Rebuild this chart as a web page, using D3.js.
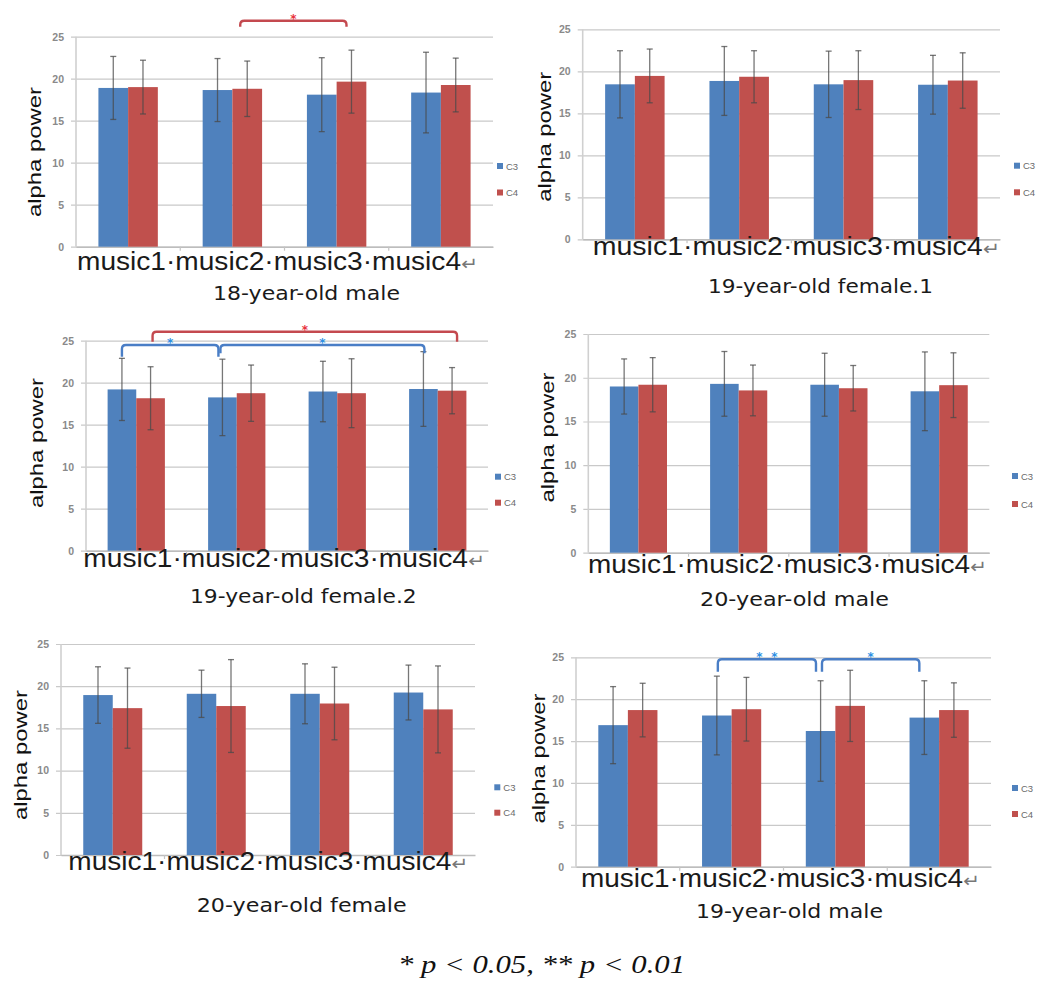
<!DOCTYPE html>
<html>
<head>
<meta charset="utf-8">
<script src="https://cdn.jsdelivr.net/npm/d3@7"></script>
<style>
  html, body { margin: 0; padding: 0; background: #fff; }
  svg { display: block; }
</style>
</head>
<body>
<svg id="chart" width="1043" height="983"></svg>
<script>
// ---------------- DATA ----------------
const categories = ["music1", "music2", "music3", "music4"];
const seriesNames = ["C3", "C4"];
const yTicks = [0, 5, 10, 15, 20, 25];
const panelTitles = [
  "18-year-old male",
  "19-year-old female.1",
  "19-year-old female.2",
  "20-year-old male",
  "20-year-old female",
  "19-year-old male"
];
const xAxisText = "music1\u00B7music2\u00B7music3\u00B7music4";
const yAxisText = "alpha power";
const footnote = "* p < 0.05, ** p < 0.01";

// mean values per panel (C3 / C4)
const c3Mean = [
  [18.9, 18.65, 18.1, 18.35],
  [18.45, 18.85, 18.45, 18.4],
  [19.2, 18.25, 18.95, 19.25],
  [19.0, 19.3, 19.2, 18.45],
  [18.95, 19.1, 19.1, 19.25],
  [16.9, 18.05, 16.2, 17.8]
];
const c4Mean = [
  [19.0, 18.8, 19.65, 19.25],
  [19.45, 19.35, 18.95, 18.9],
  [18.15, 18.75, 18.75, 19.05],
  [19.2, 18.55, 18.8, 19.15],
  [17.4, 17.65, 17.95, 17.25],
  [18.7, 18.8, 19.2, 18.7]
];
// standard deviation (error bar half-length)
const c3Err = [
  [3.75, 3.75, 4.4, 4.8],
  [4.0, 4.1, 3.95, 3.5],
  [3.7, 4.55, 3.6, 4.45],
  [3.15, 3.7, 3.6, 4.5],
  [3.35, 2.8, 3.55, 3.25],
  [4.6, 4.7, 6.0, 4.4]
];
const c4Err = [
  [3.2, 3.3, 3.75, 3.2],
  [3.2, 3.1, 3.5, 3.3],
  [3.75, 3.35, 4.1, 2.75],
  [3.1, 2.9, 2.6, 3.7],
  [4.75, 5.5, 4.3, 5.15],
  [3.2, 3.8, 4.25, 3.25]
];
// significant comparisons
const comparisons = [
  { panel: 0, series: "C4", from: "music2", to: "music3", label: "*" },
  { panel: 2, series: "C4", from: "music1", to: "music4", label: "*" },
  { panel: 2, series: "C3", from: "music1", to: "music2", label: "*" },
  { panel: 2, series: "C3", from: "music2", to: "music4", label: "*" },
  { panel: 5, series: "C3", from: "music2", to: "music3", label: "**" },
  { panel: 5, series: "C3", from: "music3", to: "music4", label: "*" }
];

// ---------------- LAYOUT / STYLE ----------------
const colors = { C3: "#4f81bd", C4: "#c0504d" };
const bracketColors = { C3: "#4a7ec6", C4: "#c4494f" };
const starColors = { C3: "#2d8fe3", C4: "#e8323c" };

const layout = [
  { l: 76,  r: 493,  top: 36.7,  bot: 246.7, ylx: 41,  yly: 152,   xl: [77, 478, 270],    st: [213, 400, 300],   lg: [497, 166, 192.5] },
  { l: 582.7, r: 1000, top: 29.3, bot: 239.3, ylx: 551, yly: 136.7, xl: [592.7, 1000, 255], st: [708, 933, 292.7], lg: [1014, 165.7, 192.3] },
  { l: 86,  r: 488,  top: 340.7, bot: 550.7, ylx: 43,  yly: 443,   xl: [83.3, 485, 566.7], st: [190, 416.7, 603.3], lg: [495, 476.7, 502.7] },
  { l: 588.3, r: 989.3, top: 334, bot: 552.7, ylx: 554, yly: 437.5, xl: [588, 987, 573],   st: [700, 889, 605.7], lg: [1012, 476, 504] },
  { l: 61,  r: 475,  top: 644,   bot: 855,   ylx: 27,  yly: 755,   xl: [68.3, 468.3, 870], st: [196.7, 406.7, 911.7], lg: [494.3, 787.3, 812.7] },
  { l: 576, r: 991,  top: 657.3, bot: 866.7, ylx: 545, yly: 758.5, xl: [581, 980, 886.7],  st: [696, 883, 918],   lg: [1012, 788, 814] }
];
// bracket placement, aligned with comparisons
const bracketLayout = [
  { dy: -16, drop: 6,    dx1: -7,  dx2: -5 },
  { dy: -9,  drop: 10,   dx1: 2,   dx2: 5 },
  { dy: 4.3, drop: 11.7, dx1: 0,   dx2: -4 },
  { dy: 4.3, drop: 8.3,  dx1: -2,  dx2: 1 },
  { dy: 2,   drop: 12.4, dx1: 1,   dx2: -4.6 },
  { dy: 2,   drop: 12.4, dx1: 1.4, dx2: -5 }
];

const svg = d3.select("#chart");

const scales = layout.map((L, p) => {
  const x = d3.scaleBand().domain(categories).range([L.l, L.r]).paddingInner(0.43).paddingOuter(0.215);
  const xs = d3.scaleBand().domain(seriesNames).range([0, x.bandwidth()]);
  const y = d3.scaleLinear().domain([0, 25]).range([L.bot, L.top]);
  return { x, xs, y };
});

layout.forEach((L, p) => {
  const { x, xs, y } = scales[p];
  const g = svg.append("g");

  // gridlines + y axis
  const yAxis = d3.axisLeft(y).tickValues(yTicks).tickSize(-(L.r - L.l)).tickPadding(7).tickSizeOuter(0);
  const ga = g.append("g").attr("transform", `translate(${L.l},0)`).call(yAxis);
  ga.select(".domain").remove();
  ga.selectAll(".tick line").attr("stroke", "#c9c9c9").attr("stroke-width", 1.2).attr("x1", -5);
  ga.selectAll(".tick text").attr("fill", "#8a8a8a").attr("font-size", 10.5).attr("font-weight", "bold")
    .attr("font-family", "Liberation Sans, Arial, sans-serif").attr("dx", -5);

  // left axis line
  g.append("line").attr("x1", L.l).attr("x2", L.l).attr("y1", L.top).attr("y2", L.bot)
    .attr("stroke", "#d0d0d0").attr("stroke-width", 1.6);

  // bottom axis with category ticks
  const xAxis = d3.axisBottom(x).tickValues([]).tickSizeOuter(0);
  const gx = g.append("g").attr("transform", `translate(0,${L.bot})`).call(xAxis);
  gx.select(".domain").attr("stroke", "#bdbdbd").attr("stroke-width", 1.4);
  const bounds = categories.slice(1).map(c => x(c) - x.step() * x.paddingInner() / 2);
  g.selectAll(".ctick").data(bounds).join("line")
    .attr("x1", d => d).attr("x2", d => d).attr("y1", L.bot).attr("y2", L.bot + 4)
    .attr("stroke", "#c4c4c4").attr("stroke-width", 1.2);

  // bars
  const rows = categories.map((c, i) => ({
    cat: c,
    vals: [
      { s: "C3", v: c3Mean[p][i], e: c3Err[p][i] },
      { s: "C4", v: c4Mean[p][i], e: c4Err[p][i] }
    ]
  }));
  const cg = g.selectAll(".cat").data(rows).join("g").attr("transform", d => `translate(${x(d.cat)},0)`);
  cg.selectAll("rect").data(d => d.vals).join("rect")
    .attr("x", d => xs(d.s)).attr("width", xs.bandwidth())
    .attr("y", d => y(d.v)).attr("height", d => y(0) - y(d.v))
    .attr("fill", d => colors[d.s]);

  // error bars
  const eg = cg.selectAll(".err").data(d => d.vals).join("g")
    .attr("transform", d => `translate(${xs(d.s) + xs.bandwidth() / 2},0)`);
  eg.append("line").attr("y1", d => y(d.v + d.e)).attr("y2", d => y(d.v - d.e))
    .attr("stroke", "#4a4a4a").attr("stroke-opacity", 0.75).attr("stroke-width", 1.3);
  eg.append("line").attr("x1", -3).attr("x2", 3).attr("y1", d => y(d.v + d.e)).attr("y2", d => y(d.v + d.e))
    .attr("stroke", "#4a4a4a").attr("stroke-opacity", 0.75).attr("stroke-width", 1.3);
  eg.append("line").attr("x1", -3).attr("x2", 3).attr("y1", d => y(d.v - d.e)).attr("y2", d => y(d.v - d.e))
    .attr("stroke", "#4a4a4a").attr("stroke-opacity", 0.75).attr("stroke-width", 1.3);

  // legend
  seriesNames.forEach((s, k) => {
    const ly = k === 0 ? L.lg[1] : L.lg[2];
    g.append("rect").attr("x", L.lg[0]).attr("y", ly - 3).attr("width", 6).attr("height", 6).attr("fill", colors[s]);
    g.append("text").attr("x", L.lg[0] + 9).attr("y", ly + 3.5).text(s)
      .attr("font-family", "Liberation Sans, Arial, sans-serif").attr("font-size", 9.5).attr("fill", "#6a6a6a");
  });

  // y axis title
  g.append("text")
    .attr("transform", `translate(${L.ylx},${L.yly}) rotate(-90)`)
    .attr("text-anchor", "middle")
    .attr("font-family", "Liberation Sans, Arial, sans-serif")
    .attr("font-size", 19).attr("fill", "#111")
    .attr("textLength", 130).attr("lengthAdjust", "spacingAndGlyphs")
    .text(yAxisText);

  // x axis text
  const xt = g.append("text")
    .attr("x", L.xl[0]).attr("y", L.xl[2])
    .attr("font-family", "Liberation Sans, Arial, sans-serif")
    .attr("font-size", 25).attr("fill", "#1a1a1a")
    .attr("textLength", L.xl[1] - L.xl[0]).attr("lengthAdjust", "spacingAndGlyphs");
  xt.append("tspan").text(xAxisText);
  xt.append("tspan").text("\u21B5").attr("font-family", "DejaVu Sans, sans-serif").attr("font-size", 18).attr("fill", "#777");

  // subtitle
  g.append("text")
    .attr("x", L.st[0]).attr("y", L.st[2])
    .attr("font-family", "DejaVu Sans, sans-serif")
    .attr("font-size", 20).attr("fill", "#1a1a1a")
    .attr("textLength", L.st[1] - L.st[0]).attr("lengthAdjust", "spacingAndGlyphs")
    .text(panelTitles[p]);
});

// significance brackets
comparisons.forEach((c, i) => {
  const B = bracketLayout[i];
  const L = layout[c.panel];
  const { x, xs } = scales[c.panel];
  const cx = cat => x(cat) + xs(c.series) + xs.bandwidth() / 2;
  const x1 = cx(c.from) + B.dx1, x2 = cx(c.to) + B.dx2;
  const yy = L.top + B.dy, r = 4;
  const path = d3.path();
  path.moveTo(x1, yy + B.drop);
  path.lineTo(x1, yy + r);
  path.quadraticCurveTo(x1, yy, x1 + r, yy);
  path.lineTo(x2 - r, yy);
  path.quadraticCurveTo(x2, yy, x2, yy + r);
  path.lineTo(x2, yy + B.drop);
  svg.append("path").attr("d", path.toString()).attr("fill", "none")
    .attr("stroke", bracketColors[c.series]).attr("stroke-width", 2.4);
  const n = c.label.length, mid = (x1 + x2) / 2, gap = 15;
  d3.range(n).forEach(k => {
    svg.append("text").attr("x", mid + (k - (n - 1) / 2) * gap).attr("y", yy + 2)
      .attr("text-anchor", "middle").attr("font-family", "DejaVu Sans, sans-serif")
      .attr("font-size", 12).attr("font-weight", "bold").attr("fill", starColors[c.series]).text("*");
  });
});

// footnote
svg.append("text").attr("x", 398).attr("y", 973)
  .attr("font-family", "Liberation Serif, Times New Roman, serif").attr("font-style", "italic")
  .attr("font-size", 26).attr("fill", "#111")
  .attr("textLength", 287).attr("lengthAdjust", "spacingAndGlyphs")
  .text(footnote);
</script>
</body>
</html>
